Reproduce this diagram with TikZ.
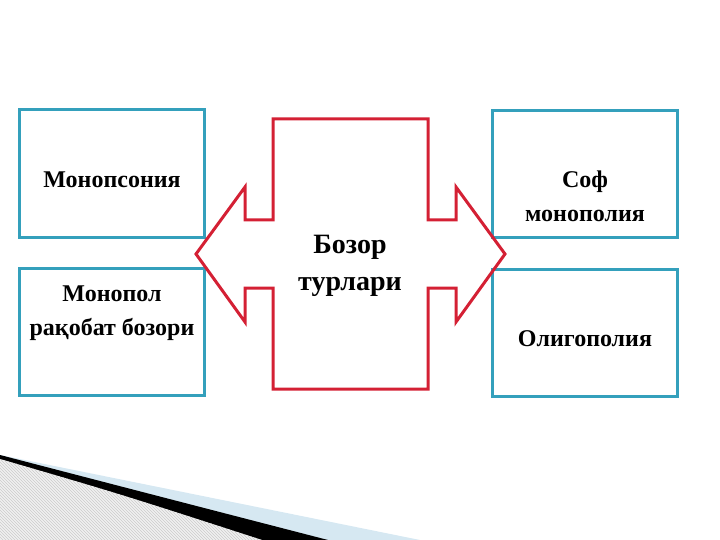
\documentclass[tikz,border=0pt]{standalone}
\usepackage{fontspec}
\setmainfont{Liberation Serif}
\usetikzlibrary{patterns}
\definecolor{boxteal}{RGB}{52,160,188}
\definecolor{arrowred}{RGB}{212,32,52}
\definecolor{swooshblue}{RGB}{214,232,242}
\begin{document}
\begin{tikzpicture}[x=1pt, y=-1pt, box/.style = {draw=boxteal, line width=3pt, minimum width=185pt, minimum height=127pt}, txt/.style = {font=\fontsize{24}{34}\selectfont\bfseries, align=center}]
\useasboundingbox (0,0) rectangle (720,540);
\fill[swooshblue] (0,455) -- (420,540) -- (0,540) -- cycle;
\fill[black] (0,455) .. controls (150,494) .. (328,540) -- (0,540) -- cycle;
\fill[gray!12] (0,459) .. controls (120,494) .. (262,540) -- (0,540) -- cycle;
\fill[pattern=north west lines, pattern color=gray!40] (0,459) .. controls (120,494) .. (262,540) -- (0,540) -- cycle;
\node[box] (monopsony) at (111.5,173.5) {};
\node[box] (monopcomp) at (111.5,332) {};
\node[box] (puremono) at (584.5,174) {};
\node[box] (oligo) at (584.5,332.5) {};
\draw[arrowred, line width=3pt, line join=miter] (273,119) -- (428,119) -- (428,220) -- (456,220) -- (456,187) -- (505,254) -- (456,322) -- (456,288) -- (428,288) -- (428,389) -- (273,389) -- (273,288) -- (245,288) -- (245,322) -- (196,254) -- (245,187) -- (245,220) -- (273,220) -- cycle;
\node[txt] (t1) at (112,180) {Монопсония};
\node[txt] (t2) at (112,313) {Монопол\\рақобат бозори};
\node[txt] (t3) at (585,196) {Соф\\монополия};
\node[txt] (t4) at (585,339) {Олигополия};
\node[txt, font=\fontsize{28}{37}\selectfont\bfseries] (t5) at (350,266) {Бозор\\турлари};
\end{tikzpicture}
\end{document}
